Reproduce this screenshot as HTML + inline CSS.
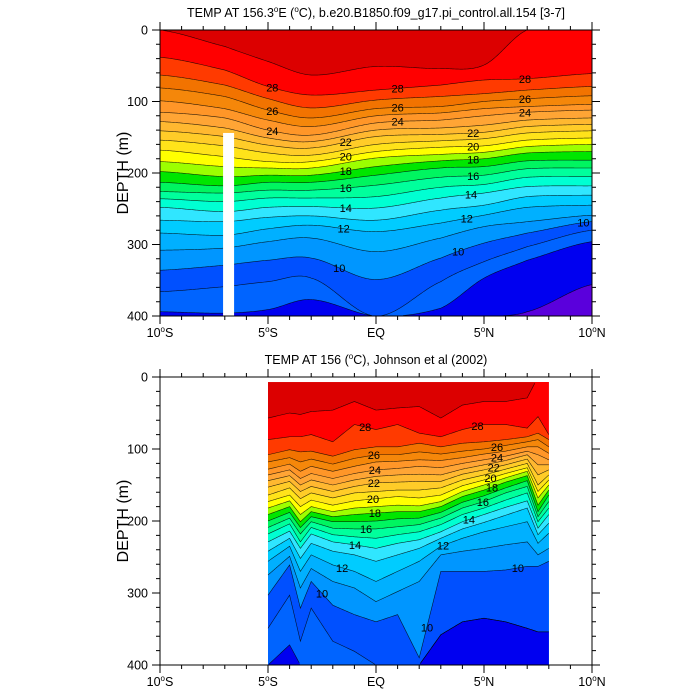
<!DOCTYPE html>
<html><head><meta charset="utf-8"><style>
html,body{margin:0;padding:0;background:#fff}
svg{display:block;font-family:"Liberation Sans",sans-serif}
</style></head><body>
<svg id="chart" width="700" height="700" viewBox="0 0 700 700" xmlns="http://www.w3.org/2000/svg">
<g id="top"></g>
<g id="bot"></g>
</svg>
<script>
// ---- level values and band colours (band below each level) ----
const levels = [29,28,27,26,25,24,23,22,21,20,19,18,17,16,15,14,13,12,11,10,9,8,7];
// ---- model (top) section: latitude and isotherm depths (m) ----
const mLats = [-10,-7,-5,-3,0,3,5,7,10];
const m29 = [0,23,44,63,51,54,49,0,0];
const m28 = [38,56,79,91,84,77,70,68,61];
const m27 = [63,77,96,109,98,93,89,84,79];
const m26 = [81,93,112,123,110,107,100,96,92];
const m25 = [99,110,126,135,120,116,110,107,104];
const m24 = [115,123,140,147,130,126,120,115,112];
const m23 = [128,137,151,156,140,137,133,126,123];
const m22 = [141,149,161,165,149,146,143,135,132];
const m21 = [154,162,172,175,160,155,152,144,141];
const m20 = [168,177,184,184,170,164,162,154,151];
const m19 = [184,191,193,193,179,174,171,163,160];
const m18 = [198,205,203,203,191,183,180,172,170];
const m17 = [213,218,213,213,203,193,191,183,182];
const m16 = [226,228,224,224,217,206,203,194,193];
const m15 = [236,240,235,235,233,220,216,206,205];
const m14 = [248,254,248,247,249,235,228,219,218];
const m13 = [266,268,262,260,266,252,245,233,231];
const m12 = [284,287,278,273,282,270,259,248,245];
const m11 = [308,305,296,291,310,291,275,268,259];
const m10 = [336,329,322,319,349,319,298,284,268];
const m9 = [366,359,352,347,400,352,324,303,280];
const m8 = [394,396,391,377,400,389,347,322,296];
const m7 = [400,400,400,400,400,400,400,394,356];
// ---- observed (bottom) section ----
const jLats = [-5,-4,-3.5,-3,-2,-1,0,1,2,3,4,5,6,7,7.5,8];
const j29 = [57,50,52,48,46,34,46,43,41,57,39,34,34,29,0,0];
const j28 = [87,83,83,80,90,66,73,66,78,83,73,66,66,71,55,80];
const j27 = [108,101,104,103,110,101,97,97,92,97,92,90,87,83,78,87];
const j26 = [118,112,118,114,121,113,108,108,104,107,103,100,95,90,87,97];
const j25 = [128,121,131,124,131,124,118,117,115,116,112,107,103,97,97,106];
const j24 = [136,129,141,134,141,134,129,127,124,126,120,115,110,103,108,115];
const j23 = [144,137,150,143,150,143,138,136,135,136,128,122,116,108,122,122];
const j22 = [153,145,159,152,159,152,147,146,145,145,135,129,122,114,136,129];
const j21 = [164,154,169,161,168,161,159,157,157,154,143,136,128,120,150,136];
const j20 = [173,164,180,171,178,172,169,166,168,164,151,143,134,126,159,143];
const j19 = [182,172,191,180,187,182,180,178,179,173,159,150,140,131,168,150];
const j18 = [191,180,201,187,194,191,189,187,187,180,166,157,146,137,178,157];
const j17 = [200,188,209,194,201,201,200,197,196,188,174,165,154,144,187,164];
const j16 = [209,196,218,201,210,211,211,208,205,196,182,173,161,152,194,173];
const j15 = [218,204,229,209,219,222,224,219,215,205,191,182,171,161,201,182];
const j14 = [229,214,238,218,229,233,238,231,226,215,201,191,181,172,210,191];
const j13 = [242,224,252,231,242,247,256,247,238,224,211,202,192,182,219,203];
const j12 = [256,235,270,247,261,270,284,270,256,235,224,215,208,201,231,217];
const j11 = [275,249,293,266,284,293,312,298,284,247,242,238,233,229,247,238];
const j10 = [303,261,321,284,317,330,340,330,390,270,270,270,268,263,263,256];
const j9 = [349,303,367,321,367,381,400,400,400,358,340,335,340,349,354,354];
const j8 = [400,372,400,400,400,400,400,400,400,358,340,335,340,349,354,354];
const j7 = [400,400,400,400,400,400,400,400,400,400,400,400,400,400,400,400];
// ---- contour labels ----
const mLabLevels = [28,28,28,26,26,26,24,24,24,22,22,20,20,18,18,16,16,14,14,12,12,10,10,10];
const mLabLats = [-4.8,1.0,6.9,-4.8,1.0,6.9,-4.8,1.0,6.9,-1.4,4.5,-1.4,4.5,-1.4,4.5,-1.4,4.5,-1.4,4.4,-1.5,4.2,-1.7,3.8,9.6];
const jLabLevels = [28,28,26,26,24,24,22,22,20,20,18,18,16,16,14,14,12,12,10,10,10];
const jLabLats = [-0.5,4.7,-0.1,5.6,-0.05,5.6,-0.1,5.45,-0.14,5.3,-0.05,5.37,-0.46,4.95,-0.97,4.3,-1.57,3.1,-2.5,2.36,6.57];
const xTicks = [-10,-5,0,5,10];
const xTickLabels = ["10","5","EQ","5","10"];
const xTickHemi = ["S","S","","N","N"];
const yTicks = [0,100,200,300,400];

const aboveColor = "#dc0000";
const bandColors = ["#ff0000","#ff3a00","#f27300","#f5870a","#ff9628","#ffa535","#ffb830","#ffcc28","#ffe31a","#ffff00","#9cff00","#00e600","#00f560","#00ff9c","#00ffd2","#00ffff","#30e6ff","#00ccff","#00b0ff","#0096ff","#0064ff","#0000f0","#5a00dc"];
bandColors.splice(15,1); bandColors.splice(19,0,"#0050ff");

const NS = "http://www.w3.org/2000/svg";
function mk(tag, parent, attrs){const e=document.createElementNS(NS,tag);for(const k in attrs)e.setAttribute(k,attrs[k]);parent.appendChild(e);return e;}

function sampleCurves(lats, series, smooth){
  const out=[];
  const n=lats.length;
  for(let i=0;i<n-1;i++){
    const steps=Math.max(4,Math.round((lats[i+1]-lats[i])*20));
    for(let s=0;s<steps;s++){
      const t=s/steps;
      const lat=lats[i]+(lats[i+1]-lats[i])*t;
      const ds=series.map(a=>{
        if(!smooth) return a[i]+(a[i+1]-a[i])*t;
        const p0=a[Math.max(0,i-1)],p1=a[i],p2=a[i+1],p3=a[Math.min(n-1,i+2)];
        const t2=t*t,t3=t2*t;
        return 0.5*((2*p1)+(-p0+p2)*t+(2*p0-5*p1+4*p2-p3)*t2+(-p0+3*p1-3*p2+p3)*t3);
      });
      out.push({lat,ds});
    }
  }
  out.push({lat:lats[n-1],ds:series.map(a=>a[n-1])});
  out.forEach(o=>{let prev=0;o.ds=o.ds.map(v=>{v=Math.min(400,Math.max(0,v,prev));prev=v;return v;});});
  return out;
}

function panel(g, opt){
  const X=lat=>opt.x0+(lat+10)*(opt.x1-opt.x0)/20;
  const Y=d=>opt.y0+d*(opt.y1-opt.y0)/400;
  const samp=sampleCurves(opt.lats,opt.series,opt.smooth);
  const dTop=opt.dTop;
  const fx0=X(opt.lats[0]), fx1=X(opt.lats[opt.lats.length-1]);
  const bg=mk('rect',g,{x:fx0,y:Y(dTop),width:fx1-fx0,height:Y(400)-Y(dTop),fill:aboveColor});
  
  
  opt.series.forEach((s,k)=>{
    let pts=samp.map(o=>X(o.lat).toFixed(2)+','+Y(Math.max(dTop,o.ds[k])).toFixed(2));
    pts.push(fx1+','+Y(400),fx0+','+Y(400));
    const p=mk('polygon',g,{points:pts.join(' '),fill:bandColors[k]});
    
    
  });
  opt.series.forEach((s,k)=>{
    let d='',pen=false;
    samp.forEach(o=>{
      const v=o.ds[k];
      if(v>dTop+0.5&&v<399.5){d+=(pen?'L':'M')+X(o.lat).toFixed(2)+' '+Y(v).toFixed(2);pen=true;}else pen=false;
    });
    if(d){const l=mk('path',g,{d:d,fill:'none',stroke:'#000','stroke-width':0.6,'stroke-opacity':0.8});
      
      }
  });
  if(opt.bar){
    const b=mk('rect',g,{x:X(opt.bar[0]),y:Y(opt.bar[2]),width:X(opt.bar[1])-X(opt.bar[0]),height:Y(400)-Y(opt.bar[2]),fill:'#fff'});
    
    
  }
  opt.labLevels.forEach((lv,i)=>{
    const k=levels.indexOf(lv);const lat=opt.labLats[i];
    let best=samp[0];samp.forEach(o=>{if(Math.abs(o.lat-lat)<Math.abs(best.lat-lat))best=o;});
    const t=mk('text',g,{x:X(lat),y:Y(best.ds[k])+4,'font-size':11,'text-anchor':'middle',fill:'#000'});
    t.textContent=String(lv);
    
    
  });
  const fr=mk('rect',g,{x:opt.x0,y:opt.y0,width:opt.x1-opt.x0,height:opt.y1-opt.y0,fill:'none',stroke:'#000','stroke-width':1});
  
  
  let td='';
  for(let lat=-10;lat<=10;lat++){const maj=lat%5===0,L=maj?8:4,x=X(lat);td+=`M${x} ${opt.y1}v${L}M${x} ${opt.y0}v${-L}`;}
  for(let d=0;d<=400;d+=20){const maj=d%100===0,L=maj?8:4,y=Y(d);td+=`M${opt.x0} ${y}h${-L}M${opt.x1} ${y}h${L}`;}
  const tk=mk('path',g,{d:td,stroke:'#000','stroke-width':1,fill:'none'});
  
  
  xTicks.forEach((lat,i)=>{
    const t=mk('text',g,{x:X(lat),y:opt.y1+21,'font-size':12.5,'text-anchor':'middle'});
    
    
    t.appendChild(document.createTextNode(xTickLabels[i]));
    if(xTickHemi[i]){const s=mk('tspan',t,{'font-size':8,dy:-5});s.textContent='o';const h=mk('tspan',t,{dy:5});h.textContent=xTickHemi[i];}
  });
  yTicks.forEach(d=>{
    const t=mk('text',g,{x:opt.x0-12,y:Y(d)+4.5,'font-size':12.5,'text-anchor':'end'});
    t.textContent=String(d);
    
    
  });
  const yt=mk('text',g,{x:0,y:0,'font-size':16,'text-anchor':'middle',transform:`translate(128 ${(opt.y0+opt.y1)/2}) rotate(-90)`});
  yt.textContent='DEPTH (m)';
  
  
  const ti=mk('text',g,{x:(opt.x0+opt.x1)/2,y:opt.y0-13,'font-size':12.5,'text-anchor':'middle'});
  
  
  opt.title.forEach(p=>{const s=mk('tspan',ti,p.sup?{'font-size':8,dy:-5}:{dy:p.down?5:0});s.textContent=p.t;});
}

panel(document.getElementById('top'),{x0:160,x1:592,y0:30,y1:316,lats:mLats,
  series:[m29,m28,m27,m26,m25,m24,m23,m22,m21,m20,m19,m18,m17,m16,m15,m14,m13,m12,m11,m10,m9,m8,m7],
  smooth:true,dTop:0,bar:[-7.08,-6.57,144],labLevels:mLabLevels,labLats:mLabLats,
  title:[{t:'TEMP AT 156.3'},{t:'o',sup:true},{t:'E (',down:true},{t:'o',sup:true},{t:'C), b.e20.B1850.f09_g17.pi_control.all.154 [3-7]',down:true}]});
panel(document.getElementById('bot'),{x0:160,x1:592,y0:377,y1:665,lats:jLats,
  series:[j29,j28,j27,j26,j25,j24,j23,j22,j21,j20,j19,j18,j17,j16,j15,j14,j13,j12,j11,j10,j9,j8,j7],
  smooth:false,dTop:7,labLevels:jLabLevels,labLats:jLabLats,
  title:[{t:'TEMP AT 156 ('},{t:'o',sup:true},{t:'C), Johnson et al (2002)',down:true}]});
</script>
</body></html>
